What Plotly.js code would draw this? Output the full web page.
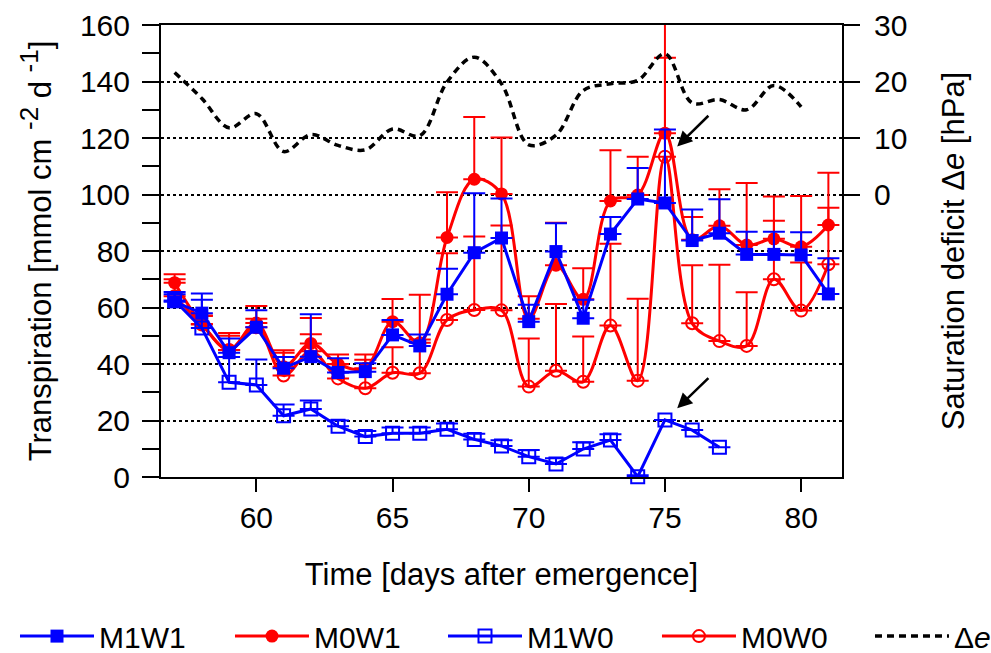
<!DOCTYPE html>
<html>
<head>
<meta charset="utf-8">
<script src="https://cdn.plot.ly/plotly-3.0.1.min.js"></script>
<style>html,body{margin:0;padding:0;background:#fff;}#chart{width:991px;height:653px;}</style>
</head>
<body>
<div id="chart"></div>
<script>
// Days after emergence
var days = [57,58,59,60,61,62,63,64,65,66,67,68,69,70,71,72,73,74,75,76,77,78,79,80,81];
var daysM1W0 = [57,58,59,60,61,62,63,64,65,66,67,68,69,70,71,72,73,74,75,76,77];
var daysDe = [57,58,59,60,61,62,63,64,65,66,67,68,69,70,71,72,73,74,75,76,77,78,79,80];

// Transpiration [mmol cm-2 d-1]
var m1w1 = [62,58,44,53,38.5,42.6,37,37.3,50.3,46.4,64.7,79.4,84.6,55,79.8,56.2,86,98.4,97,83.7,86.3,78.8,78.8,78.6,64.8];
var m1w1Err = [2.7,7,5,6,4,15,5,3,5.3,4,9,21,14,6,10,6.5,6,11,26,11,12,8,8,8,12.6];
var m0w1 = [68.8,54.2,45,54.5,39,47.3,40,38.5,55,47.5,84.8,105.4,100.2,56,75,62.9,97.7,99.8,121.7,84,88.9,82.1,84.3,81.5,89.2];
var m0w1Err = [3,3,6,6,5,9,3.4,3,8,17,16,22,20,8,15,11,18,13.6,40,8,13,22,15,18,18.5];
var m1w0 = [62.5,52.7,33.5,32.6,21.7,24.1,18,14.3,15.5,15.5,16.9,13.3,11,7.2,4.6,9.9,13.1,0.1,20.2,16.6,10.5];
var m1w0Err = [3,10,9,9,4,3,2,2,2,2,2,2,2,2.4,2,2.4,2,0.5,0,0,0];
var m0w0 = [64,54,45,53,35.9,44.5,34.9,31.4,36.9,36.7,55.6,59.1,59,32,37.6,33.7,53.6,34.1,113.4,54.4,48.1,46.4,70,58.9,75.3];
var m0w0Err = [6,3,5,3,9,6,5,12,9,12,23.6,26,30,17,23.6,16,29,29,35,20.6,27,19,20.7,17,20];

// Saturation deficit Δe [hPa]
var deltaE = [21.6,17,11.8,14.3,7.6,10.6,8.7,7.9,11.6,10.4,19.9,24.3,19.6,8.8,10.5,18.4,19.6,20.2,24.9,16.2,16.8,15,19.3,15.5];

// Arrows: [tip x, tip y, tail x, tail y]
var arrow1 = [75.45, 117, 76.65, 128.4];
var arrow2 = [75.45, 24.3, 76.65, 35.5];

var BLUE = '#0000ff', RED = '#ff0000';

function errY(arr, color) {
  return {type:'data', symmetric:false, array:arr, arrayminus:arr.map(function(){return 0;}),
          color:color, thickness:2, width:11};
}

var traces = [
  {x:days, y:m0w1, name:'M0W1', type:'scatter', mode:'lines+markers', legend:'legend2', cliponaxis:false,
   line:{color:RED, width:3, shape:'spline', smoothing:1},
   marker:{symbol:'circle', size:13, color:RED},
   error_y:errY(m0w1Err, RED)},
  {x:days, y:m0w0, name:'M0W0', type:'scatter', mode:'lines+markers', legend:'legend4', cliponaxis:false,
   line:{color:RED, width:3, shape:'spline', smoothing:1},
   marker:{symbol:'circle-open', size:12, color:RED, line:{width:2, color:RED}},
   error_y:errY(m0w0Err, RED)},
  {x:daysM1W0, y:m1w0, name:'M1W0', type:'scatter', mode:'lines+markers', legend:'legend3', cliponaxis:false,
   line:{color:BLUE, width:3},
   marker:{symbol:'square-open', size:13, color:BLUE, line:{width:2, color:BLUE}},
   error_y:errY(m1w0Err, BLUE)},
  {x:days, y:m1w1, name:'M1W1', type:'scatter', mode:'lines+markers', legend:'legend', cliponaxis:false,
   line:{color:BLUE, width:3},
   marker:{symbol:'square', size:13, color:BLUE},
   error_y:errY(m1w1Err, BLUE)},
  {x:daysDe, y:deltaE, name:'\u0394<i>e</i>', type:'scatter', mode:'lines', yaxis:'y2', legend:'legend5',
   line:{color:'#000', width:3.5, dash:'7px,5px', shape:'spline', smoothing:1}}
];

function leg(x) {
  return {orientation:'h', x:x, xanchor:'left', y:-0.352, yanchor:'middle',
          font:{size:30}, itemwidth:74, bgcolor:'rgba(0,0,0,0)'};
}

var layout = {
  width:991, height:653,
  margin:{l:161, r:149, t:25, b:176, autoexpand:false},
  paper_bgcolor:'#fff', plot_bgcolor:'#fff',
  font:{family:'"Liberation Sans", Arial, sans-serif', color:'#000', size:30},
  showlegend:true,
  legend:leg(-0.2144),
  legend2:leg(0.1013),
  legend3:leg(0.4141),
  legend4:leg(0.7283),
  legend5:leg(1.0411),
  xaxis:{range:[56.5,81.5], tickvals:[60,65,70,75,80], ticks:'outside', ticklen:13, tickwidth:2,
         tickcolor:'#000', showline:true, linewidth:2, linecolor:'#000', mirror:true,
         showgrid:false, zeroline:false, tickfont:{size:30},
         title:{text:'Time [days after emergence]', font:{size:31}, standoff:30}},
  yaxis:{range:[0,160], tickvals:[0,20,40,60,80,100,120,140,160], ticks:'outside', ticklen:17, tickwidth:2,
         tickcolor:'#000', showline:true, linewidth:2, linecolor:'#000', mirror:true,
         showgrid:true, gridcolor:'#000', gridwidth:2, griddash:'dot', zeroline:false,
         minor:{dtick:10, tick0:0, ticks:'outside', ticklen:17, tickwidth:2, tickcolor:'#000', showgrid:false},
         tickfont:{size:30}, ticklabelstandoff:6,
         title:{text:'Transpiration [mmol cm <sup><span style="font-size:26px">-2</span></sup> d <sup><span style="font-size:26px">-1</span></sup>]', font:{size:31}, standoff:19}},
  yaxis2:{overlaying:'y', side:'right', range:[-50,30], tickvals:[0,10,20,30], ticks:'outside', ticklen:16,
          tickwidth:2, tickcolor:'#000', showline:true, linewidth:2, linecolor:'#000',
          showgrid:false, zeroline:false, tickfont:{size:30}, ticklabelstandoff:8,
          title:{text:'Saturation deficit \u0394<i>e</i> [hPa]', font:{size:31}, standoff:36}},
  annotations:[
    {x:arrow1[0], y:arrow1[1], ax:arrow1[2], ay:arrow1[3], axref:'x', ayref:'y', xref:'x', yref:'y',
     text:'', showarrow:true, arrowhead:2, arrowsize:1.2, arrowwidth:2.5, arrowcolor:'#000'},
    {x:arrow2[0], y:arrow2[1], ax:arrow2[2], ay:arrow2[3], axref:'x', ayref:'y', xref:'x', yref:'y',
     text:'', showarrow:true, arrowhead:2, arrowsize:1.2, arrowwidth:2.5, arrowcolor:'#000'}
  ]
};

Plotly.newPlot('chart', traces, layout, {displayModeBar:false, staticPlot:true});
</script>
</body>
</html>
